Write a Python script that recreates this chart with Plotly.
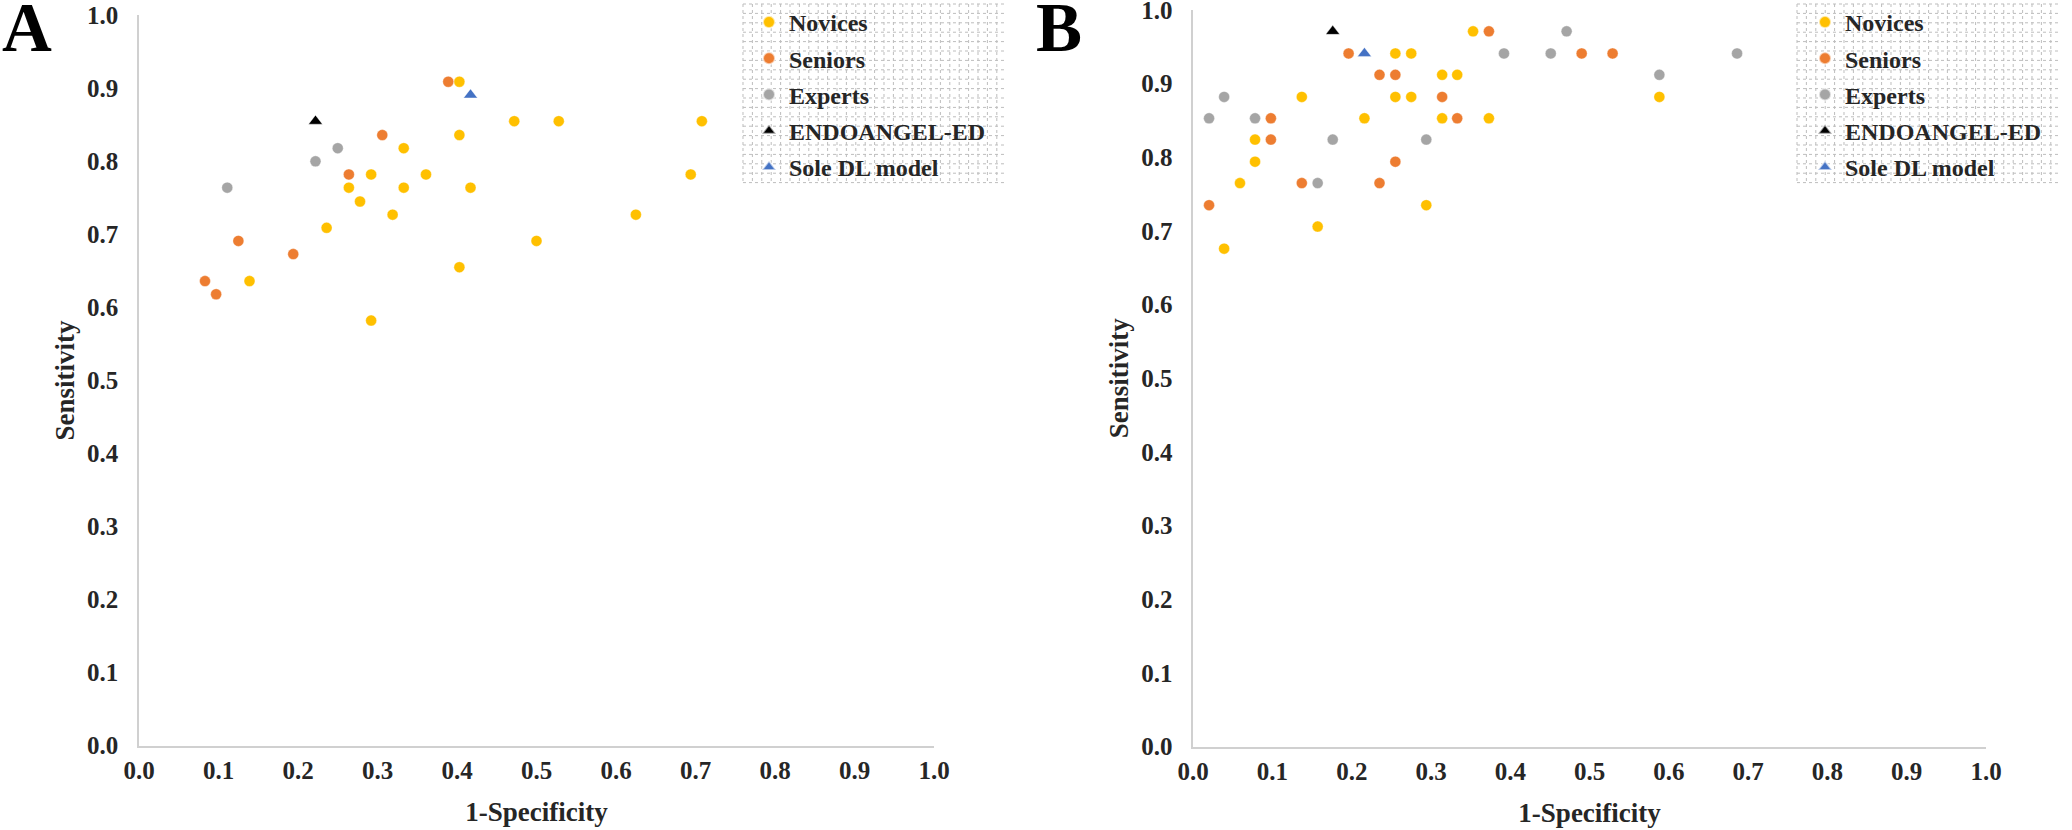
import plotly.graph_objects as go

W, H = 2072, 830

# ---------------- data ----------------
series_names = ["Novices", "Seniors", "Experts", "ENDOANGEL-ED", "Sole DL model"]
x_ticks = [0.0, 0.1, 0.2, 0.3, 0.4, 0.5, 0.6, 0.7, 0.8, 0.9, 1.0]
tick_text = ["0.0", "0.1", "0.2", "0.3", "0.4", "0.5", "0.6", "0.7", "0.8", "0.9", "1.0"]

# Panel A
a_novices_x = [0.403, 0.333, 0.292, 0.361, 0.264, 0.333, 0.417, 0.278, 0.319, 0.236,
               0.403, 0.139, 0.292, 0.500, 0.625, 0.694, 0.403, 0.472, 0.528, 0.708]
a_novices_y = [0.836, 0.818, 0.782, 0.782, 0.764, 0.764, 0.764, 0.745, 0.727, 0.709,
               0.655, 0.636, 0.582, 0.691, 0.727, 0.782, 0.909, 0.855, 0.855, 0.855]
a_seniors_x = [0.306, 0.264, 0.125, 0.194, 0.083, 0.097, 0.389]
a_seniors_y = [0.836, 0.782, 0.691, 0.673, 0.636, 0.618, 0.909]
a_experts_x = [0.250, 0.222, 0.111]
a_experts_y = [0.818, 0.800, 0.764]
a_endo_x = [0.222]
a_endo_y = [0.855]
a_dl_x = [0.417]
a_dl_y = [0.891]

# Panel B
b_novices_x = [0.353, 0.255, 0.275, 0.314, 0.333, 0.255, 0.275, 0.588, 0.216, 0.314,
               0.373, 0.137, 0.078, 0.078, 0.059, 0.157, 0.039, 0.294]
b_novices_y = [0.971, 0.941, 0.941, 0.912, 0.912, 0.882, 0.882, 0.882, 0.853, 0.853,
               0.853, 0.882, 0.824, 0.794, 0.765, 0.706, 0.676, 0.735]
b_seniors_x = [0.373, 0.196, 0.490, 0.529, 0.235, 0.255, 0.314, 0.333, 0.098, 0.098,
               0.020, 0.137, 0.235, 0.255]
b_seniors_y = [0.971, 0.941, 0.941, 0.941, 0.912, 0.912, 0.882, 0.853, 0.853, 0.824,
               0.735, 0.765, 0.765, 0.794]
b_experts_x = [0.471, 0.392, 0.451, 0.686, 0.588, 0.039, 0.020, 0.078, 0.176, 0.157, 0.294]
b_experts_y = [0.971, 0.941, 0.941, 0.941, 0.912, 0.882, 0.853, 0.853, 0.824, 0.765, 0.824]
b_endo_x = [0.176]
b_endo_y = [0.971]
b_dl_x = [0.216]
b_dl_y = [0.941]

# ---------------- styles ----------------
colors = ["#FFC000", "#ED7D31", "#A5A5A5", "#000000", "#4472C4"]
symbols = ["circle", "circle", "circle", "triangle-up", "triangle-up"]
sizes = [11, 11, 11, 12, 12]
FONT = "Liberation Serif"
TXT = "#262626"

fig = go.Figure()

panels = [
    ("x", "y", "legend", "a",
     [(a_novices_x, a_novices_y), (a_seniors_x, a_seniors_y), (a_experts_x, a_experts_y),
      (a_endo_x, a_endo_y), (a_dl_x, a_dl_y)]),
    ("x2", "y2", "legend2", "b",
     [(b_novices_x, b_novices_y), (b_seniors_x, b_seniors_y), (b_experts_x, b_experts_y),
      (b_endo_x, b_endo_y), (b_dl_x, b_dl_y)]),
]

for xa, ya, leg, tag, data in panels:
    for i, (xs, ys) in enumerate(data):
        fig.add_trace(go.Scatter(
            x=xs, y=ys, mode="markers", name=series_names[i],
            xaxis=xa, yaxis=ya, legend=leg, legendgroup=f"{tag}{i}",
            marker=dict(color=colors[i], symbol=symbols[i], size=sizes[i],
                        line=dict(width=0.6, color="rgba(255,255,255,0.6)")),
            hoverinfo="skip",
        ))

tickfont = dict(family=FONT, size=25, color=TXT, weight="bold")
titlefont = dict(family=FONT, size=27, color=TXT, weight="bold")

def xaxis_cfg(dom):
    return dict(domain=dom, range=[0, 1], tickvals=x_ticks, ticktext=tick_text,
                showgrid=False, zeroline=False, showline=True, linecolor="#D0D0D0",
                linewidth=1.5, ticks="", ticklabelstandoff=2, tickfont=tickfont,
                ticklabeloverflow="allow",
                title=dict(text="1-Specificity", font=titlefont, standoff=19),
                automargin=False, fixedrange=True)

def yaxis_cfg(dom, anchor):
    return dict(domain=dom, range=[0, 1], tickvals=x_ticks, ticktext=tick_text,
                showgrid=False, zeroline=False, showline=True, linecolor="#D0D0D0",
                linewidth=1.5, ticks="", ticklabelstandoff=14, tickfont=tickfont,
                ticklabeloverflow="allow",
                title=dict(text="Sensitivity", font=titlefont, standoff=5),
                anchor=anchor, automargin=False, fixedrange=True)

# legend background pattern (dotted grid) as a single path per legend
def grid_path(x0, x1, y0, y1, step=9.4):
    parts = []
    x = x0
    while x <= x1 + 0.01:
        parts.append(f"M{x/W:.5f},{1-y0/H:.5f} L{x/W:.5f},{1-y1/H:.5f}")
        x += step
    y = y0
    while y <= y1 + 0.01:
        parts.append(f"M{x0/W:.5f},{1-y/H:.5f} L{x1/W:.5f},{1-y/H:.5f}")
        y += step
    return " ".join(parts)

shapes = []
for (lx0, lx1) in [(743, 1005), (1797, 2059)]:
    shapes.append(dict(type="path", xref="paper", yref="paper",
                       path=grid_path(lx0, lx1, 4, 184),
                       line=dict(color="#BDBDBD", width=1, dash="dot"), layer="below"))

legfont = dict(family=FONT, size=24, color=TXT, weight="bold")

def leg_cfg(xpx):
    return dict(x=xpx / W, y=1.0, xanchor="left", yanchor="top",
                bgcolor="rgba(0,0,0,0)", borderwidth=0, font=legfont,
                traceorder="grouped", tracegroupgap=2, itemsizing="constant")

fig.update_layout(
    width=W, height=H, autosize=False,
    margin=dict(l=0, r=0, t=0, b=0),
    paper_bgcolor="white", plot_bgcolor="white",
    xaxis=xaxis_cfg([139 / W, 934 / W]) | dict(anchor="y"),
    yaxis=yaxis_cfg([(H - 745.5) / H, (H - 15.3) / H], "x"),
    xaxis2=xaxis_cfg([1193.2 / W, 1986 / W]) | dict(anchor="y2"),
    yaxis2=yaxis_cfg([(H - 746.5) / H, (H - 10) / H], "x2"),
    legend=leg_cfg(749),
    legend2=leg_cfg(1805),
    shapes=shapes,
    showlegend=True,
    hovermode=False,
    annotations=[
        dict(text="<b>A</b>", x=27 / W, y=1 - 28 / H, xref="paper", yref="paper",
             xanchor="center", yanchor="middle", showarrow=False,
             font=dict(family=FONT, size=69, color="#000000")),
        dict(text="<b>B</b>", x=1059 / W, y=1 - 28 / H, xref="paper", yref="paper",
             xanchor="center", yanchor="middle", showarrow=False,
             font=dict(family=FONT, size=69, color="#000000")),
    ],
)

fig.write_html(
    "out.html",
    config={"displayModeBar": False, "staticPlot": False},
    post_script="document.body.style.margin='0';document.body.style.overflow='hidden';",
)
